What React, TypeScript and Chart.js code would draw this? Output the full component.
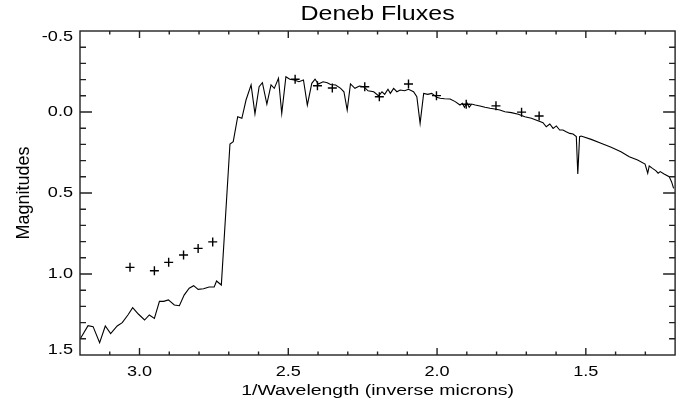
import React, { useEffect, useRef } from "react";
import { Chart, registerables } from "chart.js";

Chart.register(...registerables);

// Model spectrum (1/wavelength in inverse microns, magnitudes)
const spectrumX = [
  3.198, 3.173, 3.156, 3.134, 3.115, 3.097, 3.075, 3.058, 3.039, 3.023, 3.004, 2.983, 2.967, 2.95,
  2.933, 2.919, 2.903, 2.883, 2.866, 2.85, 2.833, 2.818, 2.803, 2.785, 2.766, 2.749, 2.741, 2.725,
  2.696, 2.685, 2.67, 2.656, 2.642, 2.625, 2.612, 2.598, 2.587, 2.572, 2.558, 2.547, 2.533, 2.522,
  2.508, 2.495, 2.48, 2.464, 2.449, 2.436, 2.421, 2.41, 2.399, 2.383, 2.369, 2.358, 2.341, 2.324,
  2.313, 2.302, 2.291, 2.276, 2.261, 2.246, 2.232, 2.213, 2.196, 2.185, 2.176, 2.165, 2.157, 2.146,
  2.135, 2.124, 2.109, 2.096, 2.079, 2.068, 2.057, 2.045, 2.031, 2.018, 2.001, 1.99, 1.975, 1.956,
  1.939, 1.923, 1.915, 1.908, 1.9, 1.892, 1.884, 1.872, 1.856, 1.839, 1.822, 1.806, 1.789, 1.772,
  1.75, 1.727, 1.705, 1.683, 1.661, 1.644, 1.633, 1.621, 1.61, 1.599, 1.588, 1.577, 1.566, 1.554,
  1.543, 1.532, 1.527, 1.521, 1.516, 1.482, 1.449, 1.415, 1.382, 1.354, 1.326, 1.301, 1.292, 1.287,
  1.276, 1.265, 1.257, 1.25, 1.237, 1.22, 1.212, 1.205,
];
const spectrumY = [
  1.397, 1.319, 1.325, 1.424, 1.321, 1.368, 1.321, 1.3, 1.253, 1.208, 1.247, 1.284, 1.253, 1.274,
  1.169, 1.169, 1.16, 1.191, 1.196, 1.13, 1.088, 1.072, 1.095, 1.091, 1.08, 1.08, 1.043, 1.068,
  0.198, 0.183, 0.029, 0.039, -0.074, -0.167, 0.012, -0.156, -0.181, -0.049, -0.167, -0.146, -0.208, 0.008,
  -0.218, -0.202, -0.198, -0.187, -0.198, -0.043, -0.177, -0.202, -0.173, -0.187, -0.181, -0.17, -0.167, -0.146,
  -0.125, -0.012, -0.173, -0.146, -0.16, -0.156, -0.131, -0.125, -0.099, -0.125, -0.109, -0.14, -0.115, -0.146,
  -0.125, -0.136, -0.131, -0.14, -0.125, -0.094, 0.07, -0.115, -0.109, -0.115, -0.091, -0.085, -0.082, -0.08,
  -0.064, -0.043, -0.054, -0.029, -0.057, -0.029, -0.049, -0.043, -0.037, -0.029, -0.023, -0.019, -0.012, -0.002,
  0.004, 0.014, 0.029, 0.039, 0.054, 0.066, 0.091, 0.074, 0.101, 0.086, 0.111, 0.111, 0.122, 0.132,
  0.136, 0.152, 0.383, 0.152, 0.148, 0.169, 0.193, 0.218, 0.245, 0.276, 0.296, 0.321, 0.378, 0.333,
  0.348, 0.362, 0.378, 0.368, 0.383, 0.399, 0.43, 0.471,
];

// Observed fluxes (plus markers)
const observedX = [
  3.032, 2.95, 2.902, 2.852, 2.803, 2.754, 2.477, 2.402, 2.352, 2.243, 2.194, 2.096, 2.002, 1.902,
  1.802, 1.716, 1.657,
];
const observedY = [
  0.959, 0.98, 0.928, 0.883, 0.842, 0.802, -0.202, -0.162, -0.148, -0.156, -0.094, -0.173, -0.101, -0.048,
  -0.038, 0.001, 0.025,
];

const xTickValues = [3.0, 2.5, 2.0, 1.5];
const xTickLabels = ["3.0", "2.5", "2.0", "1.5"];
const yTickValues = [-0.5, 0.0, 0.5, 1.0, 1.5];
const yTickLabels = ["-0.5", "0.0", "0.5", "1.0", "1.5"];

const titleText = "Deneb Fluxes";
const xTitleText = "1/Wavelength (inverse microns)";
const yTitleText = "Magnitudes";

const FONT = '"Liberation Sans", Arial, Helvetica, sans-serif';
const SX = 1.064;
const SY = 0.846;

function drawText(
  ctx: CanvasRenderingContext2D,
  text: string,
  x: number,
  y: number,
  size: number,
  align: CanvasTextAlign,
  rotate = false
) {
  ctx.save();
  ctx.translate(x, y);
  if (rotate) {
    ctx.rotate(-Math.PI / 2);
  } else {
    ctx.scale(SX, SY);
  }
  ctx.font = `${size}px ${FONT}`;
  ctx.textAlign = align;
  ctx.textBaseline = "middle";
  ctx.fillStyle = "#000";
  ctx.fillText(text, 0, 0);
  ctx.restore();
}

const framePlugin = {
  id: "idlFrame",
  afterDraw(chart: any) {
    const ctx: CanvasRenderingContext2D = chart.ctx;
    const { left, right, top, bottom } = chart.chartArea;
    const xs = chart.scales.x;
    const ys = chart.scales.y;
    ctx.save();
    ctx.strokeStyle = "#222";
    ctx.lineWidth = 1.4;
    ctx.strokeRect(left, top, right - left, bottom - top);
    ctx.beginPath();
    for (let k = 13; k <= 31; k++) {
      const px = xs.getPixelForValue(k / 10);
      const len = k % 5 === 0 ? 7 : 3.5;
      ctx.moveTo(px, bottom);
      ctx.lineTo(px, bottom - len);
      ctx.moveTo(px, top);
      ctx.lineTo(px, top + len);
    }
    for (let k = -4; k <= 14; k++) {
      const py = ys.getPixelForValue(k / 10);
      const len = k % 5 === 0 ? 12 : 6;
      ctx.moveTo(left, py);
      ctx.lineTo(left + len, py);
      ctx.moveTo(right, py);
      ctx.lineTo(right - len, py);
    }
    ctx.stroke();
    ctx.restore();

    xTickValues.forEach((v, i) => {
      drawText(ctx, xTickLabels[i], xs.getPixelForValue(v), 372, 17, "center");
    });
    yTickValues.forEach((v, i) => {
      let py = ys.getPixelForValue(v);
      py = Math.min(Math.max(py, top + 6), bottom - 5);
      drawText(ctx, yTickLabels[i], left - 7, py, 17, "right");
    });
    const cx = (left + right) / 2;
    drawText(ctx, titleText, cx, 15, 23.5, "center");
    drawText(ctx, xTitleText, cx, 391, 18.3, "center");
    drawText(ctx, yTitleText, 24, (top + bottom) / 2, 18, "center", true);
  },
};

export default function App() {
  const canvasRef = useRef<HTMLCanvasElement | null>(null);

  useEffect(() => {
    document.body.style.margin = "0";
    const canvas = canvasRef.current;
    if (!canvas) return;
    const chart = new Chart(canvas, {
      type: "line",
      data: {
        datasets: [
          {
            label: "Model",
            data: spectrumX.map((x, i) => ({ x, y: spectrumY[i] })),
            borderColor: "#000",
            borderWidth: 1.1,
            pointRadius: 0,
            fill: false,
            tension: 0,
          },
          {
            label: "Observed",
            type: "scatter",
            data: observedX.map((x, i) => ({ x, y: observedY[i] })),
            showLine: false,
            pointStyle: "cross",
            pointRadius: 4.5,
            pointBorderWidth: 1.4,
            borderColor: "#000",
            backgroundColor: "#000",
          },
        ],
      },
      options: {
        responsive: false,
        animation: false,
        events: [],
        layout: { padding: { left: 80, right: 4, top: 31, bottom: 51 } },
        plugins: {
          legend: { display: false },
          title: { display: false },
          tooltip: { enabled: false },
        },
        scales: {
          x: { type: "linear", min: 1.2, max: 3.2, reverse: true, display: false },
          y: { type: "linear", min: -0.5, max: 1.5, reverse: true, display: false },
        },
      },
      plugins: [framePlugin],
    });
    return () => chart.destroy();
  }, []);

  return (
    <div style={{ position: "absolute", left: 0, top: 0, width: 681, height: 406, background: "#fff" }}>
      <canvas ref={canvasRef} width={681} height={406} style={{ display: "block" }} />
    </div>
  );
}
